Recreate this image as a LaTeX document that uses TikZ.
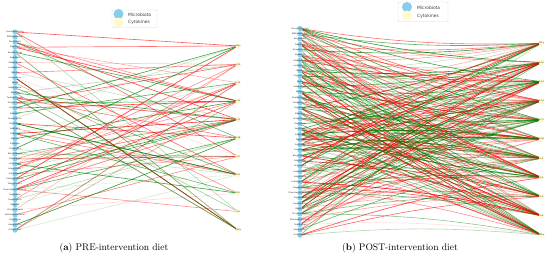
\documentclass[tikz,border=0pt]{standalone}
\usepackage{fontspec}
\newfontfamily\dejavu{DejaVu Sans}
\usetikzlibrary{backgrounds}
\definecolor{mblue}{RGB}{135,206,235}
\definecolor{cyel}{RGB}{255,250,205}
\definecolor{gcol}{RGB}{0,128,0}
\definecolor{rcol}{RGB}{255,0,0}
\tikzset{
  mnode/.style={circle, fill=mblue, minimum size=5.2pt, inner sep=0pt,
    label={[font=\dejavu\fontsize{2}{2.2}\selectfont, text=black!85, inner sep=0pt]center:#1}},
  cnode/.style={circle, fill=cyel, minimum size=5.5pt, inner sep=0pt,
    label={[font=\dejavu\fontsize{2}{2.2}\selectfont, text=black!85, inner sep=0pt]center:#1}},
  legbox/.style={draw=black!15, fill=white, rounded corners=1pt, line width=0.4pt},
  legblue/.style={circle, fill=mblue, minimum size=10pt, inner sep=0pt},
  legyel/.style={circle, fill=cyel, minimum size=10pt, inner sep=0pt},
  legtext/.style={anchor=west, inner sep=0pt, font=\dejavu\fontsize{4.4}{5}\selectfont, text=black!75},
  caption/.style={font=\fontsize{9.6}{11}\selectfont, inner sep=0pt},
  edge/.style={line width=0.6pt}
}
\begin{document}
\begin{tikzpicture}[x=1pt,y=-1pt]
\useasboundingbox (0,0) rectangle (550,259);
% microbiota nodes
\foreach \n [count=\i] in {Faecalibacterium,Bifidobacterium,Bacteroides,Prevotella,Ruminococcus,Roseburia,Akkermansia,Lactobacillus,Blautia,Coprococcus,Dorea,Eubacterium,Alistipes,Parabacteroides,Streptococcus,Escherichia,Klebsiella,Enterococcus,Clostridium,Veillonella,Collinsella,Dialister,Sutterella,Oscillospira,Butyricimonas,Odoribacter,Lachnospira,Anaerostipes,Holdemania,Subdoligranulum,Megasphaera,Phascolarctobacterium,Barnesiella,Desulfovibrio,Bilophila,Christensenella,Methanobrevibacter,Turicibacter,Haemophilus,Actinomyces} {
  \node[mnode={\n}] (la\i) at (15, {32+(\i-1)*5.08}) {};
  \node[mnode={\n}] (lb\i) at (300, {28.5+(\i-1)*5.3}) {};
}
% cytokine nodes
\foreach \n [count=\j] in {IFN-γ,IL-10,IL-12,IL-13,IL-17,IL-1β,IL-2,IL-4,IL-5,IL-6,TNF-α} {
  \node[cnode={\n}] (ra\j) at (238, {46+(\j-1)*18.4}) {};
  \node[cnode={\n}] (rb\j) at (541.5, {43.3+(\j-1)*19.17}) {};
}
\begin{pgfonlayer}{background}
\pgfmathsetseed{7}
\foreach \k in {1,...,85} {
  \pgfmathtruncatemacro\a{random(1,40)}
  \pgfmathtruncatemacro\b{random(1,11)}
  \pgfmathtruncatemacro\c{random(0,1)}
  \pgfmathsetmacro\o{0.12+0.68*rnd}
  \ifnum\c=0 \def\ec{gcol}\else\def\ec{rcol}\fi
  \draw[edge, draw=\ec, draw opacity=\o] (la\a.center) -- (ra\b.center);
}
\pgfmathsetseed{31}
\foreach \k in {1,...,260} {
  \pgfmathtruncatemacro\a{random(1,40)}
  \pgfmathtruncatemacro\b{random(1,11)}
  \pgfmathtruncatemacro\c{random(0,1)}
  \pgfmathsetmacro\o{0.12+0.68*rnd}
  \ifnum\c=0 \def\ec{gcol}\else\def\ec{rcol}\fi
  \ifnum\a<21 \def\bv{-5}\else\def\bv{5}\fi
  \draw[edge, draw=\ec, draw opacity=\o] (lb\a.center) to[bend left=\bv] (rb\b.center);
}
\end{pgfonlayer}
% legends
\draw[legbox] (112,10) rectangle (157,27.5);
\node[legblue] (lga1) at (118.5,14) {};
\node[legyel] (lga2) at (118.5,22.5) {};
\node[legtext] (lgat1) at (128,15) {Microbiota};
\node[legtext] (lgat2) at (128,22.5) {Cytokines};
\draw[legbox] (398,2) rectangle (448,21.5);
\node[legblue] (lgb1) at (407,7) {};
\node[legyel] (lgb2) at (407,15.5) {};
\node[legtext] (lgbt1) at (417,8) {Microbiota};
\node[legtext] (lgbt2) at (417,16) {Cytokines};
% captions
\node[caption] (capa) at (114,248) {(\textbf{a}) PRE-intervention diet};
\node[caption] (capb) at (400,248) {(\textbf{b}) POST-intervention diet};
\end{tikzpicture}
\end{document}
